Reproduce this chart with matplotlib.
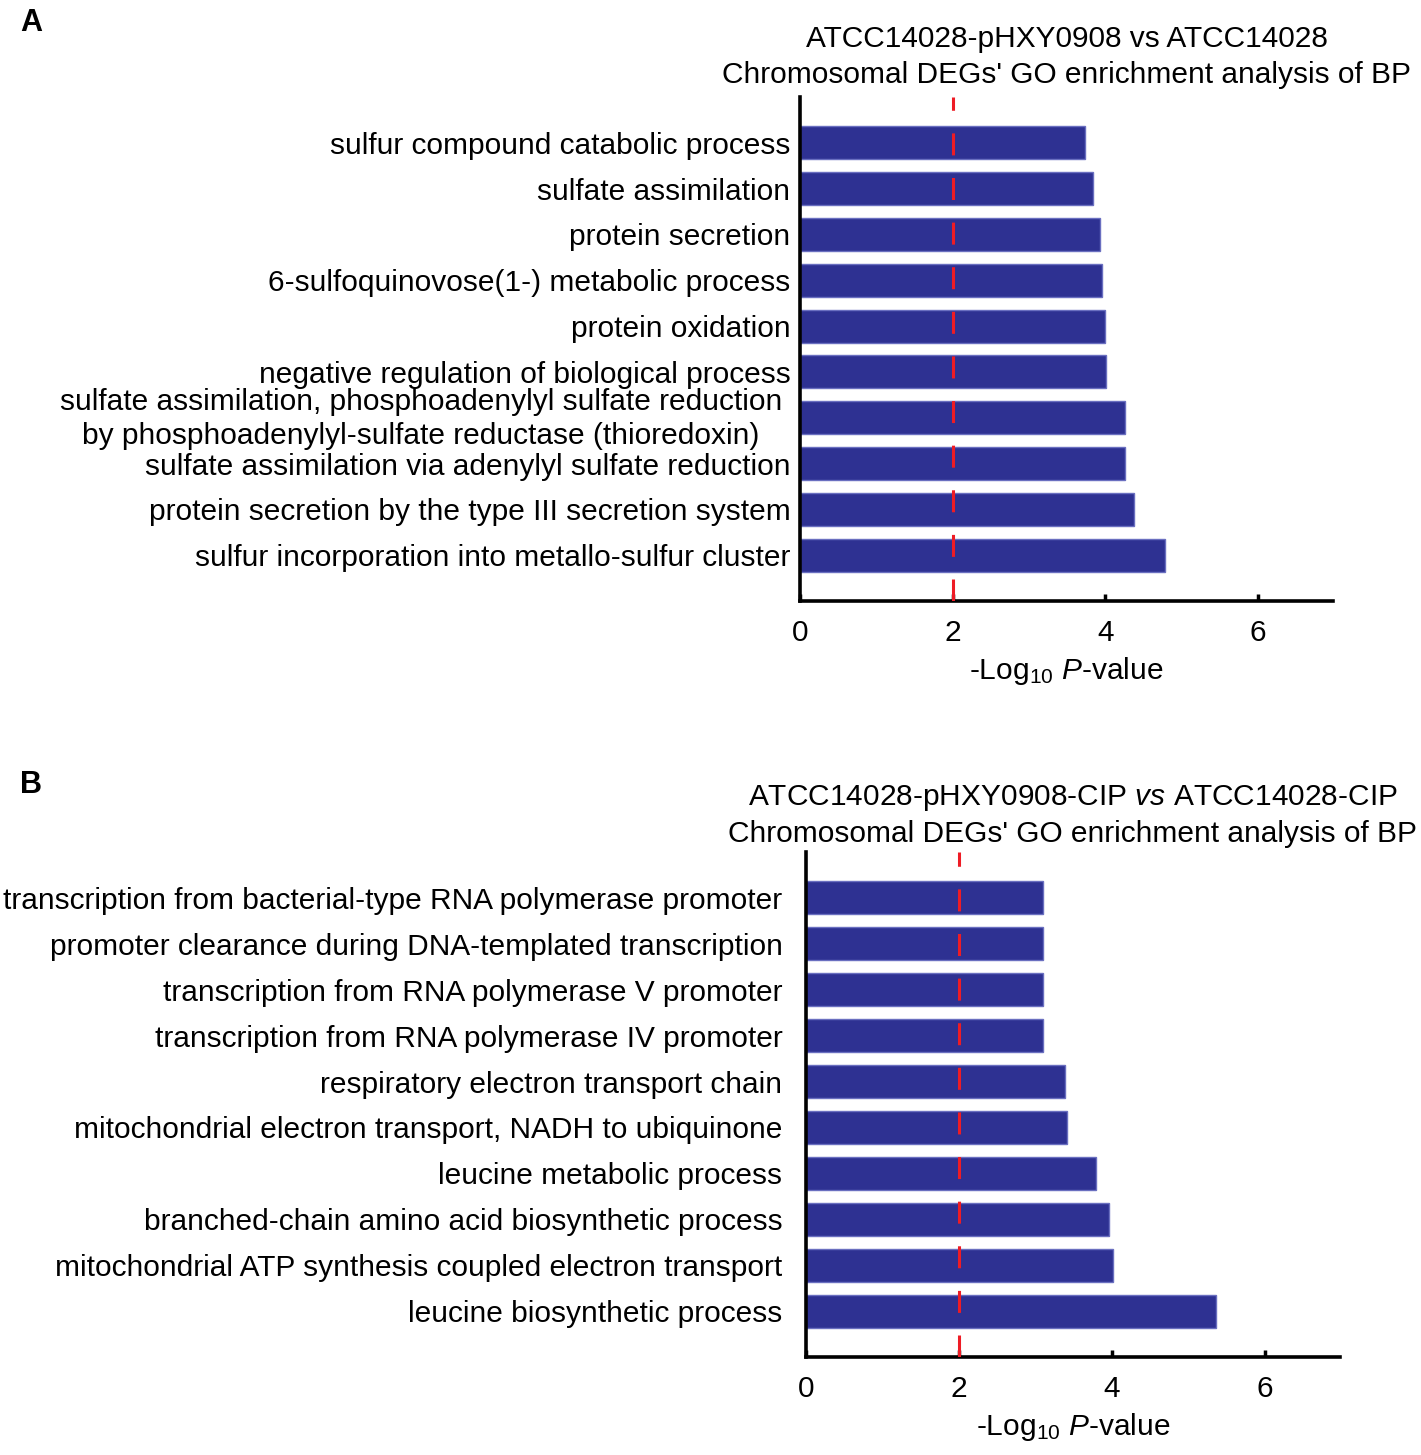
import matplotlib
matplotlib.use("Agg")
import matplotlib.pyplot as plt
import matplotlib.transforms as mtransforms

plt.rcParams['font.family'] = ['Liberation Sans', 'DejaVu Sans']
plt.rcParams['mathtext.fontset'] = 'custom'
plt.rcParams['mathtext.rm'] = 'Liberation Sans'
plt.rcParams['mathtext.it'] = 'Liberation Sans:italic'

# Panel A data (top to bottom)
terms_a = [
    "sulfur compound catabolic process",
    "sulfate assimilation",
    "protein secretion",
    "6-sulfoquinovose(1-) metabolic process",
    "protein oxidation",
    "negative regulation of biological process",
    "sulfate assimilation, phosphoadenylyl sulfate reduction \nby phosphoadenylyl-sulfate reductase (thioredoxin) ",
    "sulfate assimilation via adenylyl sulfate reduction",
    "protein secretion by the type III secretion system",
    "sulfur incorporation into metallo-sulfur cluster",
]
values_a = [3.73, 3.84, 3.93, 3.96, 4.00, 4.01, 4.26, 4.26, 4.38, 4.78]

# Panel B data (top to bottom)
terms_b = [
    "transcription from bacterial-type RNA polymerase promoter",
    "promoter clearance during DNA-templated transcription",
    "transcription from RNA polymerase V promoter",
    "transcription from RNA polymerase IV promoter",
    "respiratory electron transport chain",
    "mitochondrial electron transport, NADH to ubiquinone",
    "leucine metabolic process",
    "branched-chain amino acid biosynthetic process",
    "mitochondrial ATP synthesis coupled electron transport",
    "leucine biosynthetic process",
]
values_b = [3.10, 3.10, 3.10, 3.10, 3.39, 3.41, 3.79, 3.96, 4.01, 5.36]

threshold = 2
xticks = [0, 2, 4, 6]

BAR = '#2E3192'
EDGE = '#6A6FC0'
FS = 21.5

fig = plt.figure(figsize=(14.21, 14.55), dpi=100)

def W(x): return x / 1421
def H(y): return 1 - y / 1455

def panel(rect, terms, values, title, pad, tpad):
    ax = fig.add_axes(rect)
    n = len(terms)
    pos = list(range(n))[::-1]
    ax.barh(pos, values, height=0.72, color=BAR, edgecolor=EDGE, linewidth=1.0, zorder=2)
    ax.axvline(threshold, color='#EE1C25', lw=2.2, dashes=(7.2, 7.4), zorder=3)
    ax.set_xlim(0, 6.98)
    ax.set_ylim(-1, n)
    ax.set_yticks(pos)
    # single-line labels as tick labels; multi-line labels drawn as centred text blocks
    ax.set_yticklabels(['' if '\n' in t else t for t in terms], fontsize=FS)
    ax.tick_params(axis='y', length=0, pad=pad)
    trans = mtransforms.blended_transform_factory(ax.transAxes, ax.transData) + \
        mtransforms.ScaledTranslation(-pad / 72, 0, fig.dpi_scale_trans)
    for p, t in zip(pos, terms):
        if '\n' in t:
            ax.text(0, p - 0.03, t, transform=trans, ha='right', va='center',
                    multialignment='center', linespacing=1.3, fontsize=FS)
    ax.set_xticks(xticks)
    ax.set_xticklabels([str(t) for t in xticks], fontsize=FS)
    ax.tick_params(axis='x', direction='in', length=5, width=2.5, pad=13)
    for s in ['top', 'right']:
        ax.spines[s].set_visible(False)
    for s in ['left', 'bottom']:
        ax.spines[s].set_linewidth(2.6)
    ax.set_xlabel(r'-Log$_{10}$ $\it{P}$-value', fontsize=FS, labelpad=6)
    ax.set_title(title, fontsize=FS, linespacing=1.35, pad=tpad)
    return ax

axA = panel([W(800), H(601), W(1333 - 800), (601 - 97) / 1455], terms_a, values_a,
            "ATCC14028-pHXY0908 vs ATCC14028\nChromosomal DEGs' GO enrichment analysis of BP", 7, 10)
axB = panel([W(806), H(1357), W(1340 - 806), (1357 - 852) / 1455], terms_b, values_b,
            "ATCC14028-pHXY0908-CIP $\\it{vs}$ ATCC14028-CIP\nChromosomal DEGs' GO enrichment analysis of BP", 17, 7)

fig.text(W(20), H(31), 'A', fontsize=22, fontweight='bold', ha='left', va='baseline')
fig.text(W(20), H(793), 'B', fontsize=22, fontweight='bold', ha='left', va='baseline')

fig.savefig('out.png', dpi=100)
